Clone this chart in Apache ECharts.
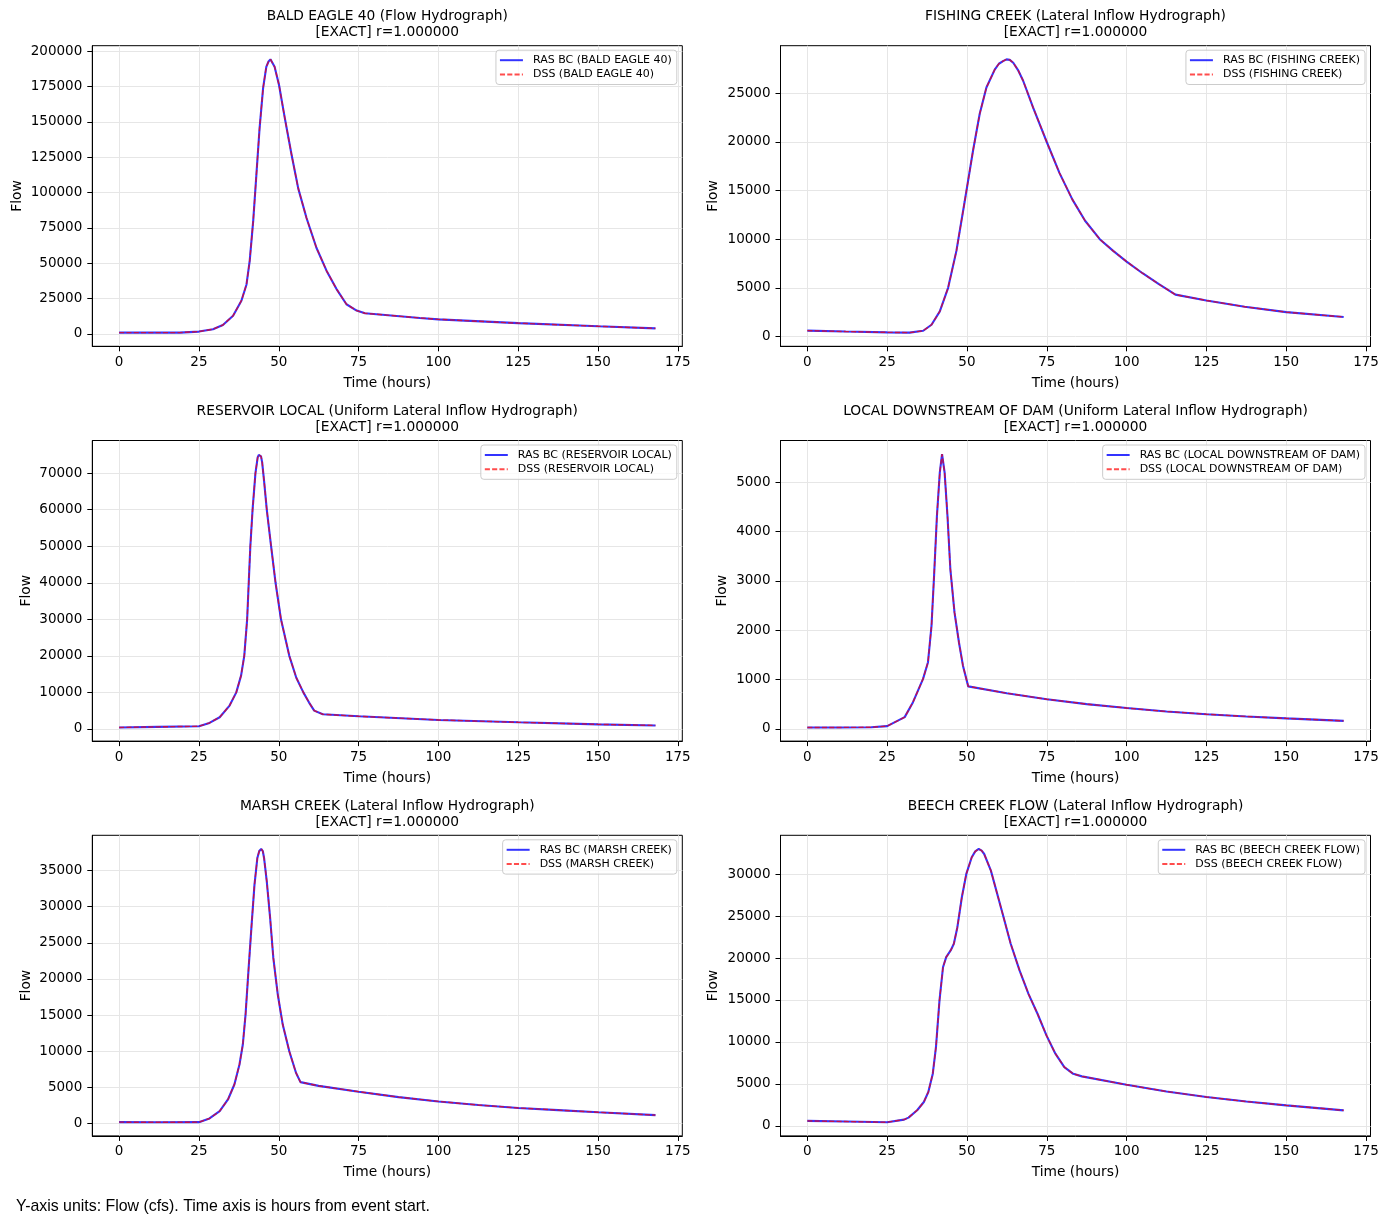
<!DOCTYPE html>
<html>
<head>
<meta charset="utf-8">
<script src="https://cdn.jsdelivr.net/npm/echarts@6/dist/echarts.min.js"></script>
<style>
  html, body { margin: 0; padding: 0; background: #fff; }
  #chart { width: 1389px; height: 1227px; }
</style>
</head>
<body>
<div id="chart"></div>
<script>
// Hydrograph values (hours from event start, flow in cfs)
const baldEagleHours = [0, 10, 19, 25, 29.4, 32.5, 35.7, 38.3, 39.9, 40.9, 42, 43, 44, 45.1, 46.1, 46.8, 47.4, 48, 48.7, 50.1, 51.9, 54, 56.1, 58.7, 61.8, 65, 68.1, 71.2, 74.4, 77, 94.2, 100, 125, 150, 168];
const baldEagleFlow = [900, 920, 940, 1650, 3300, 6300, 12900, 23500, 35000, 51700, 80000, 112800, 145700, 174000, 189000, 192800, 194300, 193000, 189000, 176000, 152700, 127000, 103000, 82000, 61000, 44600, 31700, 21000, 16500, 14600, 11300, 10300, 7600, 5400, 3900];

const fishingHours = [0, 12, 25, 32, 36.3, 38.9, 41.5, 44.1, 46.7, 49.3, 51.9, 54, 56.1, 58.7, 60, 61.3, 62.4, 63.4, 64.5, 66, 67.6, 70.7, 75, 79, 83, 87, 91.6, 95.8, 100, 105, 110, 115.3, 125, 137, 150, 168];
const fishingFlow = [600, 500, 420, 390, 585, 1200, 2580, 5000, 8800, 13900, 19100, 22900, 25600, 27450, 28050, 28320, 28500, 28450, 28150, 27400, 26300, 23560, 20000, 16800, 14100, 11900, 10000, 8800, 7700, 6500, 5400, 4300, 3700, 3050, 2500, 2000];

const reservoirHours = [0, 12, 25, 28.3, 31.5, 34.6, 36.7, 38.2, 39.2, 40.1, 40.6, 41.1, 41.8, 42.7, 43.4, 43.75, 44.1, 44.45, 44.8, 45.5, 46.25, 47.6, 49, 50.7, 53.3, 55.5, 57.7, 59.5, 61.1, 63.8, 75, 100, 125, 150, 168];
const reservoirFlow = [400, 560, 730, 1640, 3190, 6380, 10000, 14590, 20000, 30000, 40000, 50000, 60000, 70000, 74300, 75000, 75200, 74600, 73000, 67000, 60000, 50000, 40000, 30000, 20000, 14000, 10000, 7200, 5000, 4000, 3450, 2450, 1800, 1250, 950];

const belowDamHours = [0, 10, 20, 25, 30.5, 33.1, 36.25, 37.8, 38.9, 39.7, 40.6, 41.5, 42.2, 43, 43.9, 44.8, 46.1, 47.5, 48.75, 50.4, 62.5, 75, 87.5, 100, 112.5, 125, 137.5, 150, 168];
const belowDamFlow = [27, 27, 30, 54, 236, 540, 1012, 1350, 2090, 3100, 4320, 5200, 5570, 5200, 4320, 3240, 2360, 1750, 1280, 860, 720, 600, 500, 420, 350, 295, 250, 210, 160];

const marshHours = [0, 12, 25, 28.3, 31.5, 34.1, 36.1, 37.7, 38.75, 39.6, 40.5, 41.5, 42.4, 43.3, 43.9, 44.5, 45, 45.4, 46.25, 47.3, 48.3, 49.7, 51.25, 53.3, 55.4, 56.8, 62.5, 75, 87.5, 100, 112.5, 125, 137.5, 150, 168];
const marshFlow = [180, 170, 180, 690, 1700, 3320, 5390, 8160, 10930, 15070, 21070, 27520, 33050, 36740, 37700, 37990, 37700, 36740, 33510, 28440, 22910, 17840, 13690, 10000, 7010, 5720, 5200, 4400, 3650, 3050, 2550, 2150, 1850, 1550, 1150];

const beechHours = [0, 12, 25, 30.3, 31.7, 34.4, 36.5, 37.9, 39.3, 40.3, 41.4, 42.5, 43.5, 44.9, 45.9, 47, 48.4, 49.8, 51.5, 52.6, 53.7, 54.6, 55.4, 57.5, 60.9, 63.7, 66.5, 69.3, 72.1, 74.9, 77.7, 80.5, 83.3, 86, 100, 112.5, 125, 137.5, 150, 168];
const beechFlow = [595, 520, 436, 750, 990, 1860, 2850, 4040, 6220, 9400, 14950, 18900, 20100, 20900, 21690, 23670, 27240, 30015, 32000, 32700, 32990, 32800, 32390, 30410, 25650, 21700, 18500, 15700, 13360, 10780, 8600, 7000, 6200, 5900, 4900, 4100, 3450, 2900, 2450, 1850];

const panels = [
  { name: 'BALD EAGLE 40', kind: 'Flow Hydrograph', hours: baldEagleHours, flow: baldEagleFlow, step: 25000 },
  { name: 'FISHING CREEK', kind: 'Lateral Inflow Hydrograph', hours: fishingHours, flow: fishingFlow, step: 5000 },
  { name: 'RESERVOIR LOCAL', kind: 'Uniform Lateral Inflow Hydrograph', hours: reservoirHours, flow: reservoirFlow, step: 10000 },
  { name: 'LOCAL DOWNSTREAM OF DAM', kind: 'Uniform Lateral Inflow Hydrograph', hours: belowDamHours, flow: belowDamFlow, step: 1000 },
  { name: 'MARSH CREEK', kind: 'Lateral Inflow Hydrograph', hours: marshHours, flow: marshFlow, step: 5000 },
  { name: 'BEECH CREEK FLOW', kind: 'Lateral Inflow Hydrograph', hours: beechHours, flow: beechFlow, step: 5000 }
];

const W = 1389;
const colLeft = [92.3, 780.5];
const rowTop = [45.7, 440.5, 835.3];
const plotW = 590;
const plotH = 300.6;
const font = 'DejaVu Sans';

// tick positions: multiples of step inside [lo, hi]
function ticksIn(lo, hi, step) {
  const out = [];
  for (let v = Math.ceil(lo / step) * step; v <= hi; v += step) out.push(v);
  return out;
}

const grids = [], xAxes = [], yAxes = [], series = [], legends = [], graphics = [];

panels.forEach((p, i) => {
  const col = i % 2, row = Math.floor(i / 2);
  const left = colLeft[col], top = rowTop[row];
  const cx = left + plotW / 2;

  grids.push({
    left: left, top: top, width: plotW, height: plotH,
    show: true, borderColor: '#000', borderWidth: 1, backgroundColor: 'transparent',
    containLabel: false, outerBoundsMode: 'none'
  });

  // matplotlib-style 5% margins
  const tLo = Math.min(...p.hours), tHi = Math.max(...p.hours), tPad = (tHi - tLo) * 0.05;
  const qLo = Math.min(...p.flow), qHi = Math.max(...p.flow), qPad = (qHi - qLo) * 0.05;
  const xTicks = ticksIn(tLo - tPad, tHi + tPad, 25);
  const yTicks = ticksIn(qLo - qPad, qHi + qPad, p.step);

  const axisCommon = {
    axisLine: { show: true, onZero: false, lineStyle: { color: '#000', width: 1 } },
    splitLine: { show: true, lineStyle: { color: '#e6e6e6', width: 1 } },
    nameTextStyle: { color: '#000', fontSize: 13.8, fontFamily: font }
  };

  xAxes.push(Object.assign({
    type: 'value', gridIndex: i,
    min: tLo - tPad, max: tHi + tPad,
    name: 'Time (hours)', nameLocation: 'middle', nameGap: 30,
    axisTick: { show: true, length: 5, customValues: xTicks, lineStyle: { color: '#000', width: 1 } },
    axisLabel: { color: '#000', fontSize: 13.5, fontFamily: font, margin: 9, customValues: xTicks,
      formatter: v => String(v) }
  }, axisCommon));

  yAxes.push(Object.assign({
    type: 'value', gridIndex: i,
    min: qLo - qPad, max: qHi + qPad,
    name: 'Flow', nameLocation: 'middle', nameRotate: 90,
    nameGap: [68, 60, 59, 51, 59, 60][i],
    axisTick: { show: true, length: 5, customValues: yTicks, lineStyle: { color: '#000', width: 1 } },
    axisLabel: { color: '#000', fontSize: 13.5, fontFamily: font, margin: 10, customValues: yTicks,
      formatter: v => String(v) }
  }, axisCommon));

  const pts = p.hours.map((h, k) => [h, p.flow[k]]);
  const rasName = 'RAS BC (' + p.name + ')';
  const dssName = 'DSS (' + p.name + ')';

  series.push({
    name: rasName, type: 'line', xAxisIndex: i, yAxisIndex: i,
    data: pts, symbol: 'none', smooth: false,
    itemStyle: { color: 'rgba(0,0,255,0.8)' },
    lineStyle: { color: 'rgba(0,0,255,0.8)', width: 2.1 }
  });
  series.push({
    name: dssName, type: 'line', xAxisIndex: i, yAxisIndex: i,
    data: pts, symbol: 'none', smooth: false,
    itemStyle: { color: 'rgba(255,0,0,0.7)' },
    lineStyle: { color: 'rgba(255,0,0,0.7)', width: 1.4, type: [5.1, 2.2] }
  });

  legends.push({
    data: [rasName, dssName],
    orient: 'vertical',
    right: W - (left + plotW - 5.5),
    top: top + 4.5,
    itemWidth: 23, itemHeight: 12, itemGap: 2.3,
    padding: [4, 5, 4, 3],
    backgroundColor: 'rgba(255,255,255,0.8)',
    borderColor: '#cccccc', borderWidth: 1, borderRadius: 3,
    selectedMode: false,
    itemStyle: { opacity: 0 },
    textStyle: { color: '#000', fontSize: 11, fontFamily: font, lineHeight: 12, padding: [0, 0, 0, 5] }
  });

  const titleY = [16, 411.5, 806][row];
  graphics.push({
    type: 'text', x: cx, y: titleY,
    style: { text: p.name + ' (' + p.kind + ')', textAlign: 'center', textVerticalAlign: 'middle',
      fill: '#000', fontSize: 13.8, fontFamily: font }
  });
  graphics.push({
    type: 'text', x: cx, y: titleY + 16,
    style: { text: '[EXACT] r=1.000000', textAlign: 'center', textVerticalAlign: 'middle',
      fill: '#000', fontSize: 13.8, fontFamily: font }
  });
});

graphics.push({
  type: 'text', x: 16, y: 1207,
  style: { text: 'Y-axis units: Flow (cfs). Time axis is hours from event start.',
    textAlign: 'left', textVerticalAlign: 'middle', fill: '#000',
    fontSize: 15.9, fontFamily: 'Liberation Sans' }
});

const chart = echarts.init(document.getElementById('chart'), null, { renderer: 'canvas' });
chart.setOption({
  animation: false,
  backgroundColor: '#fff',
  grid: grids,
  xAxis: xAxes,
  yAxis: yAxes,
  legend: legends,
  series: series,
  graphic: graphics
});
</script>
</body>
</html>
